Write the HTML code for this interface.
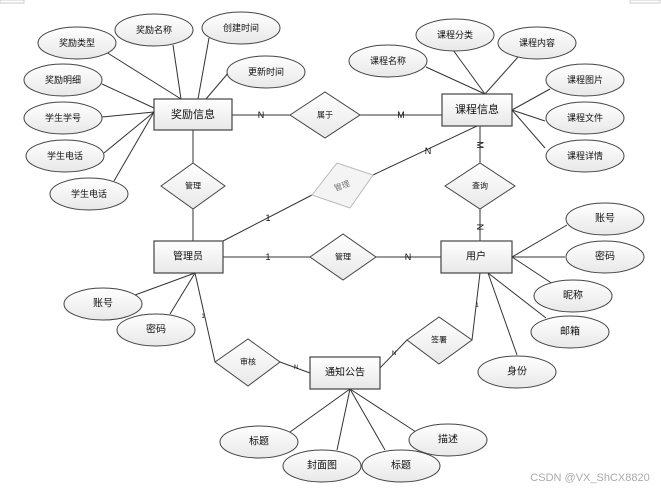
<!DOCTYPE html>
<html><head><meta charset="utf-8"><style>
html,body{margin:0;padding:0;background:#fff;}
svg{display:block;font-family:"Liberation Sans","Noto Sans CJK SC",sans-serif;}
</style></head><body>
<svg width="661" height="491" viewBox="0 0 661 491" xmlns="http://www.w3.org/2000/svg">
<defs>
<linearGradient id="g" x1="0" y1="0" x2="0" y2="1"><stop offset="0" stop-color="#ffffff"/><stop offset="1" stop-color="#e8e8e8"/></linearGradient>
</defs>
<rect x="0" y="0" width="24" height="3" fill="none" stroke="#ccc"/>
<rect x="630" y="0" width="30" height="3" fill="none" stroke="#ccc"/>
<g stroke="#333" stroke-width="1" fill="none">
<!-- 奖励信息 attrs -->
<line x1="106" y1="52" x2="181" y2="99"/>
<line x1="173" y1="45" x2="181" y2="99"/>
<line x1="209" y1="38" x2="198" y2="99"/>
<line x1="229" y1="72" x2="206" y2="99"/>
<line x1="102" y1="84" x2="154" y2="108"/>
<line x1="102" y1="117" x2="154" y2="112"/>
<line x1="104" y1="153" x2="154" y2="112"/>
<line x1="114" y1="181" x2="154" y2="112"/>
<!-- 课程信息 attrs -->
<line x1="426" y1="67" x2="485" y2="94"/>
<line x1="453" y1="50" x2="485" y2="94"/>
<line x1="518" y1="57" x2="485" y2="94"/>
<line x1="550" y1="89" x2="512" y2="110"/>
<line x1="545" y1="121" x2="512" y2="110"/>
<line x1="545" y1="148" x2="512" y2="110"/>
<!-- relations -->
<line x1="232" y1="115" x2="290" y2="115"/>
<line x1="360" y1="115" x2="442" y2="115"/>
<line x1="193" y1="130" x2="193" y2="163"/>
<line x1="193" y1="209" x2="193" y2="241"/>
<line x1="223" y1="241" x2="312" y2="195"/>
<line x1="373" y1="175" x2="477" y2="126"/>
<line x1="480" y1="126" x2="480" y2="163"/>
<line x1="480" y1="209" x2="480" y2="241"/>
<line x1="223" y1="257" x2="310" y2="257"/>
<line x1="376" y1="257" x2="441" y2="257"/>
<!-- 用户 attrs -->
<line x1="512" y1="257" x2="567" y2="225"/>
<line x1="512" y1="257" x2="565" y2="257"/>
<line x1="512" y1="257" x2="553" y2="284"/>
<line x1="488" y1="273" x2="546" y2="318"/>
<line x1="488" y1="273" x2="517" y2="355"/>
<!-- 管理员 attrs -->
<line x1="195" y1="273" x2="135" y2="295"/>
<line x1="195" y1="273" x2="170" y2="314"/>
<line x1="195" y1="273" x2="215" y2="362"/>
<line x1="280" y1="362" x2="310" y2="373"/>
<line x1="380" y1="368" x2="407" y2="340"/>
<line x1="472" y1="340" x2="480" y2="273"/>
<!-- 通知公告 attrs -->
<line x1="350" y1="389" x2="290" y2="432"/>
<line x1="350" y1="389" x2="337" y2="450"/>
<line x1="350" y1="389" x2="385" y2="450"/>
<line x1="350" y1="389" x2="416" y2="432"/>
</g>
<!-- ellipses -->
<g fill="url(#g)" stroke="#444" stroke-width="1">
<ellipse cx="77" cy="43" rx="39" ry="16"/>
<ellipse cx="154" cy="30" rx="39" ry="16"/>
<ellipse cx="241" cy="28" rx="39" ry="16"/>
<ellipse cx="266" cy="72" rx="39" ry="16"/>
<ellipse cx="63" cy="80" rx="39" ry="16"/>
<ellipse cx="63" cy="118" rx="39" ry="16"/>
<ellipse cx="65" cy="156" rx="39" ry="16"/>
<ellipse cx="89" cy="194" rx="39" ry="16"/>
<ellipse cx="388" cy="61" rx="39" ry="16"/>
<ellipse cx="455" cy="35" rx="39" ry="16"/>
<ellipse cx="537" cy="43" rx="39" ry="16"/>
<ellipse cx="585" cy="80" rx="39" ry="16"/>
<ellipse cx="585" cy="118" rx="39" ry="16"/>
<ellipse cx="585" cy="156" rx="39" ry="16"/>
<ellipse cx="605" cy="219" rx="39" ry="16"/>
<ellipse cx="605" cy="257" rx="39" ry="16"/>
<ellipse cx="573" cy="296" rx="39" ry="16"/>
<ellipse cx="570" cy="332" rx="39" ry="16"/>
<ellipse cx="517" cy="372" rx="39" ry="16"/>
<ellipse cx="103" cy="304" rx="39" ry="16"/>
<ellipse cx="156" cy="330" rx="39" ry="16"/>
<ellipse cx="259" cy="442" rx="39" ry="16"/>
<ellipse cx="322" cy="466" rx="39" ry="16"/>
<ellipse cx="401" cy="466" rx="39" ry="16"/>
<ellipse cx="448" cy="440" rx="39" ry="16"/>
</g>
<!-- entities -->
<g fill="url(#g)" stroke="#444" stroke-width="1.2">
<rect x="154" y="99" width="78" height="31"/>
<rect x="442" y="94" width="70" height="32"/>
<rect x="154" y="241" width="69" height="32"/>
<rect x="441" y="241" width="71" height="32"/>
<rect x="310" y="357" width="70" height="32"/>
</g>
<!-- diamonds -->
<g fill="url(#g)" stroke="#444" stroke-width="1">
<polygon points="290,115 325,92 360,115 325,138"/>
<polygon points="161,186 193,163 225,186 193,209"/>
<polygon points="445,186 480,163 515,186 480,209"/>
<polygon points="310,257 343,234 376,257 343,280"/>
<polygon points="215,362 248,339 280,362 248,386"/>
<polygon points="407,340 439,317 472,340 439,364"/>
</g>
<polygon points="312,195 337,163 373,175 350,208" fill="#f4f4f4" stroke="#bbb"/>
<!-- text -->
<g font-size="9" fill="#111" text-anchor="middle" dominant-baseline="central">
<text x="77" y="43">奖励类型</text>
<text x="154" y="30">奖励名称</text>
<text x="241" y="28">创建时间</text>
<text x="266" y="72">更新时间</text>
<text x="63" y="80">奖励明细</text>
<text x="63" y="118">学生学号</text>
<text x="65" y="156">学生电话</text>
<text x="89" y="194">学生电话</text>
<text x="388" y="61">课程名称</text>
<text x="455" y="35">课程分类</text>
<text x="537" y="43">课程内容</text>
<text x="585" y="80">课程图片</text>
<text x="585" y="118">课程文件</text>
<text x="585" y="156">课程详情</text>
<text x="605" y="219" font-size="10">账号</text>
<text x="605" y="257" font-size="10">密码</text>
<text x="573" y="296" font-size="10">昵称</text>
<text x="570" y="332" font-size="10">邮箱</text>
<text x="517" y="372" font-size="10">身份</text>
<text x="103" y="304" font-size="10">账号</text>
<text x="156" y="330" font-size="10">密码</text>
<text x="259" y="442" font-size="10">标题</text>
<text x="322" y="466" font-size="10">封面图</text>
<text x="401" y="466" font-size="10">标题</text>
<text x="448" y="440" font-size="10">描述</text>
<text x="193" y="115" font-size="11">奖励信息</text>
<text x="477" y="110" font-size="11">课程信息</text>
<text x="188" y="257" font-size="10">管理员</text>
<text x="476" y="257" font-size="10">用户</text>
<text x="345" y="373" font-size="10">通知公告</text>
<text x="325" y="115" font-size="8">属于</text>
<text x="193" y="186" font-size="8">管理</text>
<text x="480" y="186" font-size="8">查询</text>
<text x="343" y="257" font-size="8">管理</text>
<text x="248" y="362" font-size="8">审核</text>
<text x="439" y="340" font-size="8">签署</text>
<text x="342" y="186" font-size="8" fill="#777" transform="rotate(-20 342 186)">管理</text>
<text x="261" y="115" font-size="9">N</text>
<text x="401" y="115" font-size="9">M</text>
<text x="428" y="151" font-size="9">N</text>
<text x="480" y="145" font-size="9" transform="rotate(90 480 145)">M</text>
<text x="480" y="227" font-size="9" transform="rotate(90 480 227)">N</text>
<text x="268" y="218" font-size="9">1</text>
<text x="268" y="257" font-size="9">1</text>
<text x="408" y="257" font-size="9">N</text>
<text x="203" y="317" font-size="6">1</text>
<text x="296" y="368" font-size="6">N</text>
<text x="394" y="354" font-size="6">N</text>
<text x="477" y="306" font-size="6">1</text>
<text x="590" y="478" font-size="11" fill="#aaa">CSDN @VX_ShCX8820</text>
</g>
</svg>
</body></html>
